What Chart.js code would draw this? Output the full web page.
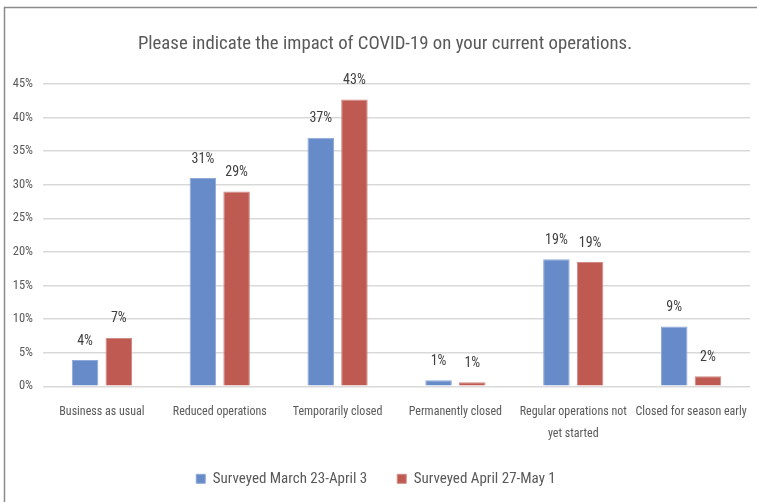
<!DOCTYPE html>
<html>
<head>
<meta charset="utf-8">
<script src="https://cdn.jsdelivr.net/npm/chart.js@4.4.1/dist/chart.umd.min.js"></script>
<style>
html,body{margin:0;padding:0;background:#fff;}
#wrap{position:relative;width:757px;height:502px;}
</style>
</head>
<body>
<div id="wrap"><canvas id="c" width="757" height="502"></canvas></div>
<script>
const categories = [
  "Business as usual",
  "Reduced operations",
  "Temporarily closed",
  "Permanently closed",
  ["Regular operations not", "yet started"],
  "Closed for season early"
];
const seriesNames = ["Surveyed March 23-April 3", "Surveyed April 27-May 1"];
const marchValues = [3.9, 31.0, 37.0, 0.9, 18.9, 8.9];
const aprilValues = [7.2, 29.0, 42.7, 0.6, 18.5, 1.5];
const yTicks = [0, 5, 10, 15, 20, 25, 30, 35, 40, 45];
const titleText = "Please indicate the impact of COVID-19 on your current operations.";

const FONT = "'Roboto Condensed', 'DejaVu Sans Condensed', sans-serif";
const TEXT = "#595959";

const frame = {
  id: "frame",
  beforeDraw(chart) {
    const ctx = chart.ctx;
    ctx.save();
    ctx.fillStyle = "#fff";
    ctx.fillRect(0, 0, chart.width, chart.height);
    ctx.strokeStyle = "#8a8a8a";
    ctx.lineWidth = 1.5;
    ctx.beginPath();
    ctx.moveTo(4.5, chart.height);
    ctx.lineTo(4.5, 7.5);
    ctx.lineTo(chart.width, 7.5);
    ctx.stroke();
    ctx.restore();
  }
};

// Centre the title at x≈385 and the legend at x≈376, as in the reference
const shiftBlocks = {
  id: "shiftBlocks",
  afterLayout(chart) {
    if (chart.titleBlock) {
      const d = 385 - (chart.titleBlock.left + chart.titleBlock.right) / 2;
      chart.titleBlock.left += d; chart.titleBlock.right += d;
    }
    if (chart.legend) {
      const d = 376 - (chart.legend.left + chart.legend.right) / 2;
      chart.legend.left += d; chart.legend.right += d;
    }
  }
};

const valueLabels = {
  id: "valueLabels",
  afterDatasetsDraw(chart) {
    const ctx = chart.ctx;
    ctx.save();
    ctx.font = "14px " + FONT;
    ctx.fillStyle = "#404040";
    ctx.textAlign = "center";
    ctx.textBaseline = "middle";
    chart.data.datasets.forEach((ds, i) => {
      const meta = chart.getDatasetMeta(i);
      meta.data.forEach((bar, j) => {
        ctx.fillText(Math.round(ds.data[j]) + "%", bar.x, bar.y - 19);
      });
    });
    ctx.restore();
  }
};

const PAD_L = 4;

new Chart(document.getElementById("c"), {
  type: "bar",
  data: {
    labels: categories,
    datasets: [
      { label: seriesNames[0], data: marchValues, backgroundColor: "#678BC9", borderColor: "#8fa9d8", borderWidth: 1,
        categoryPercentage: 0.572, barPercentage: 0.787 },
      { label: seriesNames[1], data: aprilValues, backgroundColor: "#BF5A52", borderColor: "#d08a84", borderWidth: 1,
        categoryPercentage: 0.572, barPercentage: 0.787 }
    ]
  },
  options: {
    responsive: false,
    animation: false,
    devicePixelRatio: 1,
    layout: { padding: { left: PAD_L, right: 7, top: 0, bottom: 5.7 } },
    plugins: {
      title: {
        display: true,
        text: titleText,
        color: TEXT,
        font: { family: FONT, size: 18.75, weight: "normal" },
        padding: { top: 32.75, bottom: 28.75 }
      },
      legend: {
        position: "bottom",
        labels: {
          color: TEXT,
          font: { family: FONT, size: 15 },
          boxWidth: 9,
          boxHeight: 9,
          padding: 30
        }
      },
      tooltip: { enabled: false }
    },
    scales: {
      x: {
        afterFit(scale) { scale.height = 55; scale.paddingLeft = 0; scale.paddingRight = 0; },
        grid: { display: false, drawTicks: false },
        border: { display: false },
        ticks: {
          color: TEXT,
          font: { family: FONT, size: 12, lineHeight: 1.85 },
          padding: 14.5,
          autoSkip: false,
          maxRotation: 0,
          minRotation: 0
        }
      },
      y: {
        min: 0,
        max: 45,
        afterFit(scale) { scale.width = 43 - PAD_L; },
        afterBuildTicks(scale) { scale.ticks = yTicks.map(v => ({ value: v })); },
        grid: { color: "#d9d9d9", lineWidth: 1.5, drawTicks: false },
        border: { display: false },
        ticks: {
          color: TEXT,
          font: { family: FONT, size: 12.5 },
          padding: 10,
          callback: v => v + "%"
        }
      }
    }
  },
  plugins: [frame, shiftBlocks, valueLabels]
});
</script>
</body>
</html>
